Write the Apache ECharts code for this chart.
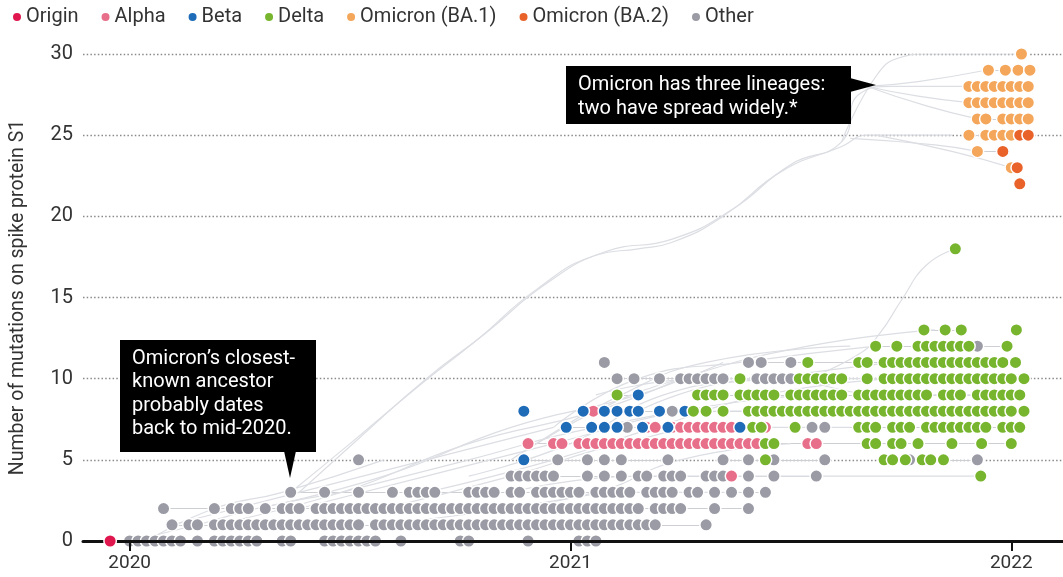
<!DOCTYPE html>
<html>
<head>
<meta charset="utf-8">
<script src="https://cdn.jsdelivr.net/npm/echarts@6/dist/echarts.min.js"></script>
<style>
  html, body { margin: 0; padding: 0; background: #fff; }
  #chart { width: 1063px; height: 577px; }
</style>
</head>
<body>
<div id="chart"></div>
<script>
// x = weeks since start of 2020, y = number of mutations on S1
var yearTicks = [0, 52, 104];
var yearLabels = ['2020', '2021', '2022'];

var originPts = [[-2.3, 0]];

var otherRows = [
    [0, [0,1,2,3,4,5,6,8,10,11,12,13,14,15,18,19,23,24,25,26,27,28,29,32,39,40,47,53,54,55]],
    [1, [5,7,8,10,11,12,13,14,15,16,17,18,19,20,21,22,23,24,25,26,27,29,30,31,32,33,34,35,36,37,38,39,40,41,42,43,44,45,46,47,48,49,50,51,52,53,54,55,56,57,58,59,60,61,62,68]],
    [2, [4,10,12,13,14,16,18,19,20,22,23,24,25,26,27,28,29,30,31,32,33,34,35,36,37,38,39,40,41,42,43,44,45,46,47,48,49,50,51,52,53,54,55,56,57,58,59,60,62,63,64,65,69,73]],
    [3, [19,23,27,31,33,34,35,36,40,41,42,43,45,46,48,49,50,51,52,53,55,56,57,58,59,61,62,63,64,66,67,69,71,73,75]],
    [4, [45,46,47,48,49,50,54,56,58,60,61,63,64,65,68,69,70,73,76,81]],
    [5, [27,50.5,54,56,58,63.5,70,73,76,82,92,100]],
    [7, [58.7,80.5,82]],
    [8, [64]],
    [10, [57.5,59.5,62.5,65,66,67,68,69,70,74,75,76,77,78]],
    [11, [56,73,74.5,78]],
    [12, [100]]
];
var alphaRows = [
    [4, [71]],
    [6, [47,50,51,53,54,55,56,57,58,59,60,61,62,63,64,65,66,67,68,69,70,71,72,73,74,80,81]],
    [7, [61,62,64,65,66,67,68,69,70,71,75]],
    [8, [54.7]]
];
var betaRows = [
    [5, [46.5]],
    [7, [51.5,54.5,56,57.5,60.5,63.5,72]],
    [8, [46.5,53.5,56,57.5,59,60,62.5,65.5]],
    [9, [60]]
];
var deltaRows = [
    [4, [100.4]],
    [5, [75,89,90,91.5,93.5,94.5,96]],
    [6, [75,76,87,88,90,91,93,97,100.5,104]],
    [7, [73.5,74.5,78.5,86,87,88,90,91,92,94,95,96,97,98,99,100,101,103,104,105]],
    [8, [66.5,68,70,73,74,75,76,77,78,79,80,81,82,83,84,85,86,87,88,89,90,91,92,93,94,95,96,97,98,99,100,101,102,103,104,105.5]],
    [9, [57.5,67,68,69,70,72,73,74,75,76,78,79,80,81,82,83,84,86,87,88,89,90,91,92,93,94,96,97,98,100,101,102,103,104,105]],
    [10, [72,79,80,81,82,83,84,87,89,90,91,92,93,94,95,96,97,98,99,100,101,102,103,104,105.5]],
    [11, [80,86,87,89,90,91,92,93,94,95,96,97,98,99,100,101,102,103,104.5]],
    [12, [88,90.5,93,94,95,96,97,98,99,103.5]],
    [13, [93.7,96.2,98.1,104.6]],
    [18, [97.4]]
];
var ba1Rows = [
    [23, [104]],
    [24, [100]],
    [25, [99,101,102,103,104]],
    [26, [100,101,103,104,105,106]],
    [27, [99,100,101,102,103,104,105,106]],
    [28, [99,100,101,102,103,104,105,106]],
    [29, [101.3,103.3,104.8,106.2]],
    [30, [105.2]]
];
var ba2Rows = [
    [22, [105]],
    [23, [104.7]],
    [24, [103]],
    [25, [105,106]]
];

// light grey branches of the tree behind the dots
var branchLines = [
    [[19,3],[26,6],[34,9.5],[41,12.4],[48,15.5],[55,17.6],[60,18],[64,18.4],[70,20],[77,22.8],[84,24.3],[87,25],[97,25]],
    [[20,3],[27,6.3],[35,10],[42,12.8],[49,15.8],[56,17.8],[64,18.6],[71,20.4],[78,23.2],[84,24.6],[86,27.5],[90,28],[99,28]],
    [[84,24.6],[88,28.6],[91,29.8],[94,30],[105,30]],
    [[87,28],[93,28.3],[101,29]],
    [[87,28],[93,27.4],[99,27]],
    [[87,28],[94,26.8],[100,26]],
    [[85,24.8],[95,24.4],[100,24]],
    [[88,25],[97,24],[104,23]],
    [[80,10],[86,11.5],[88.5,12.8],[91,14.8],[94,17],[97.4,18]],
    [[0,0],[8,1],[15,2],[25,3]],
    [[2,0],[10,2],[18,3],[30,5]],
    [[5,1],[20,3],[35,5],[50,7]],
    [[10,1],[25,3],[40,6],[55,8],[65,10]],
    [[15,2],[30,4],[45,7],[60,9],[70,11]],
    [[20,2],[35,4],[50,6],[65,8],[80,9]],
    [[25,3],[40,5],[55,7],[70,8],[85,8]],
    [[30,2],[45,4],[58,6],[70,7],[85,7]],
    [[35,3],[50,5],[62,7],[75,9],[90,10]],
    [[40,4],[52,6],[63,9],[75,10],[90,11]],
    [[45,5],[55,8],[65,10],[80,12],[95,13]],
    [[48,6],[58,9],[68,11],[85,12]],
    [[50,7],[60,10],[72,11],[88,12]],
    [[45,3],[60,4],[80,4],[100,4]],
    [[60,8],[75,10],[90,9],[100,9]],
    [[55,9],[68,10],[85,10],[105,10]],
    [[42,2],[55,3],[65,5],[78,6]],
    [[30,1],[45,2],[60,3],[72,3]]
];

var colors = {
    origin: '#e0174e', alpha: '#e86f89', beta: '#1e6bb8', delta: '#78b52e',
    ba1: '#f4a65a', ba2: '#e8622a', other: '#9a9ba5'
};

function toPoints(rows)
{
    var out = [];
    rows.forEach(function (r) { r[1].forEach(function (w) { out.push([w, r[0]]); }); });
    return out;
}

// short horizontal connectors between neighbouring dots on one row
function buildConnectors()
{
    var byRow = {};
    [otherRows, alphaRows, betaRows, deltaRows, ba1Rows, ba2Rows].forEach(function (rows) {
        rows.forEach(function (r) {
            byRow[r[0]] = (byRow[r[0]] || []).concat(r[1]);
        });
    });
    var segs = [];
    Object.keys(byRow).forEach(function (y) {
        var ws = byRow[y].slice().sort(function (a, b) { return a - b; });
        for (var i = 1; i < ws.length; i++) {
            if (ws[i] - ws[i - 1] <= 6) segs.push({coords: [[ws[i - 1], +y], [ws[i], +y]]});
        }
    });
    return segs;
}

var chart = echarts.init(document.getElementById('chart'));

var dotStyle = function (c) { return {color: c, borderColor: '#fff', borderWidth: 1.5, opacity: 1}; };

var series = [];
branchLines.forEach(function (pts) {
    series.push({type: 'line', data: pts, smooth: 0.5, symbol: 'none', silent: true, z: 1,
        lineStyle: {color: '#dcdee3', width: 1.2}});
});
series.push({type: 'lines', coordinateSystem: 'cartesian2d', data: buildConnectors(), silent: true, z: 1,
    lineStyle: {color: '#cdcfd4', width: 1.2, opacity: 1}});

function scatter(name, data, c, z)
{
    return {name: name, type: 'scatter', data: data, symbolSize: 12.5, clip: false, z: z || 2,
        itemStyle: dotStyle(c)};
}
series.push(scatter('Other', toPoints(otherRows), colors.other));
series.push(scatter('Alpha', toPoints(alphaRows), colors.alpha));
series.push(scatter('Beta', toPoints(betaRows), colors.beta));
series.push(scatter('Delta', toPoints(deltaRows), colors.delta));
series.push(scatter('Omicron (BA.1)', toPoints(ba1Rows), colors.ba1));
series.push(scatter('Omicron (BA.2)', toPoints(ba2Rows), colors.ba2));
series.push(scatter('Origin', originPts, colors.origin, 6));

var option = {
    animation: false,
    textStyle: {fontFamily: 'Roboto'},
    legend: {
        data: ['Origin', 'Alpha', 'Beta', 'Delta', 'Omicron (BA.1)', 'Omicron (BA.2)', 'Other'],
        left: 6, top: 2, icon: 'circle', itemWidth: 10, itemHeight: 10, itemGap: 21,
        textStyle: {fontSize: 20, color: '#333', fontFamily: 'Roboto', padding: [0, 0, 0, -1]},
        selectedMode: false
    },
    grid: {left: 80, right: 0, top: 54, bottom: 36},
    xAxis: {
        type: 'value', min: -5.5, max: 110.1, z: 4,
        axisLine: {show: true, onZero: true, lineStyle: {color: '#111', width: 3}},
        axisTick: {show: true, customValues: yearTicks, length: 10, lineStyle: {color: '#111', width: 2}},
        axisLabel: {customValues: yearTicks, fontSize: 19, color: '#333', margin: 13,
            formatter: function (v) { return yearLabels[yearTicks.indexOf(v)]; }},
        splitLine: {show: false}
    },
    yAxis: {
        type: 'value', min: 0, max: 30, interval: 5,
        name: 'Number of mutations on spike protein S1', nameLocation: 'middle', nameGap: 55,
        nameTextStyle: {fontSize: 19.5, color: '#333'},
        axisLine: {show: false}, axisTick: {show: false},
        axisLabel: {fontSize: 20, color: '#333', margin: 10},
        splitLine: {lineStyle: {color: '#8a8a8a', width: 1.3, type: [1.5, 2.2]}}
    },
    graphic: [
        {type: 'rect', shape: {x: 120, y: 340, width: 196, height: 112}, style: {fill: '#000'}, z: 20},
        {type: 'polygon', shape: {points: [[284, 451], [296, 451], [290, 478]]}, style: {fill: '#000'}, z: 20},
        {type: 'text', x: 132, y: 347, z: 21, style: {
            text: 'Omicron’s closest-\nknown ancestor\nprobably dates\nback to mid-2020.',
            fill: '#fff', font: '20px Roboto', lineHeight: 23.5}},
        {type: 'rect', shape: {x: 566, y: 66, width: 285, height: 58}, style: {fill: '#000'}, z: 20},
        {type: 'polygon', shape: {points: [[850, 78], [850, 92], [876, 85]]}, style: {fill: '#000'}, z: 20},
        {type: 'text', x: 578, y: 73, z: 21, style: {
            text: 'Omicron has three lineages:\ntwo have spread widely.*',
            fill: '#fff', font: '20px Roboto', lineHeight: 24}}
    ],
    series: series
};

chart.setOption(option);
</script>
</body>
</html>
